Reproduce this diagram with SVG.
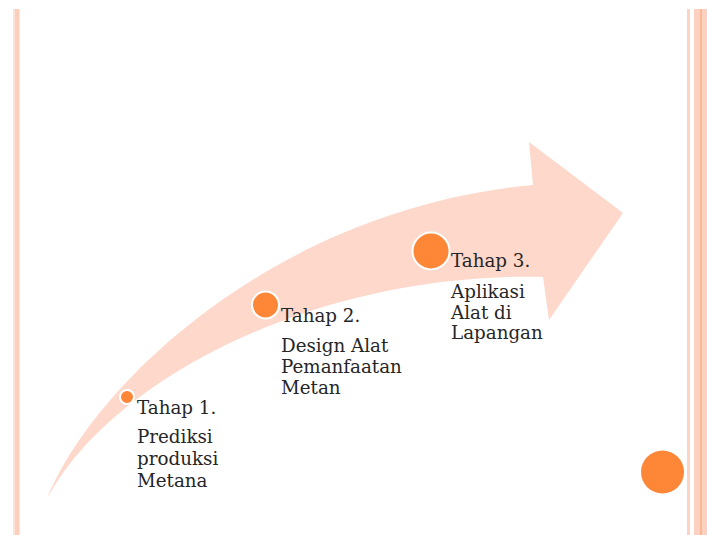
<svg xmlns="http://www.w3.org/2000/svg" width="707" height="535" viewBox="0 0 707 535">
  <style>
    .dot { fill: #FD8637; stroke: #FFFFFF; stroke-width: 2; }
    .label { font-family: "DejaVu Serif", "Liberation Serif", serif; font-size: 18.3px; fill: #262626; }
    .band { fill: #FDD8CB; }
  </style>

  <rect width="707" height="535" fill="#FFFFFF"/>

  <!-- page border stripes -->
  <g id="border-left">
    <rect x="13" y="9" width="7" height="526" fill="#FDE2D8"/>
    <rect x="15" y="9" width="4" height="526" fill="#FCCEBD"/>
  </g>
  <g id="border-right">
    <rect x="687" y="9" width="3" height="526" fill="#FDD3C3"/>
    <rect x="694" y="9" width="13" height="526" fill="#FDD0BF"/>
    <rect x="700" y="9" width="2" height="526" fill="#FBB899"/>
  </g>

  <!-- curved progress arrow: upper edge, head, then lower edge back to the tail tip -->
  <g id="connectors">
    <path class="band" d="M 47,499
      C 90,390 270,210 533,185
      L 529,142 L 623,213 L 549,320 L 543,277
      C 315,272 110,380 47,499 Z"/>
  </g>

  <g id="step-1">
    <circle class="dot" cx="127" cy="397" r="7"/>
    <text class="label" x="137" y="414">Tahap 1.</text>
    <text class="label" x="137" y="443">Prediksi</text>
    <text class="label" x="137" y="465">produksi</text>
    <text class="label" x="137" y="487">Metana</text>
  </g>

  <g id="step-2">
    <circle class="dot" cx="265.5" cy="305" r="13.5"/>
    <text class="label" x="281" y="322">Tahap 2.</text>
    <text class="label" x="281" y="352">Design Alat</text>
    <text class="label" x="281" y="373">Pemanfaatan</text>
    <text class="label" x="281" y="394">Metan</text>
  </g>

  <g id="step-3">
    <circle class="dot" cx="431" cy="251" r="18.5"/>
    <text class="label" x="451" y="267">Tahap 3.</text>
    <text class="label" x="451" y="298">Aplikasi</text>
    <text class="label" x="451" y="318.5">Alat di</text>
    <text class="label" x="451" y="339">Lapangan</text>
  </g>

  <g id="corner-dot">
    <circle cx="662.5" cy="472" r="21.5" fill="#FD8637"/>
  </g>
</svg>
